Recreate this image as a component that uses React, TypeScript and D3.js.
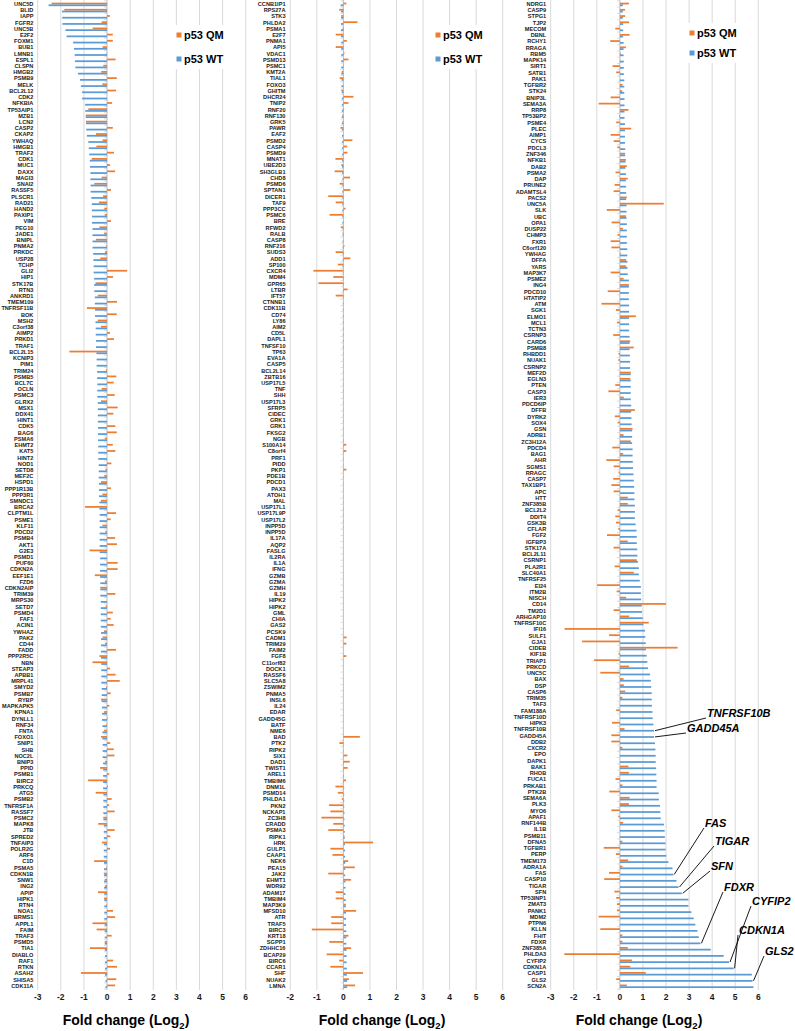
import React from "react";
import * as d3 from "d3";

const W = 795;
const H = 1031;
const PLOT_TOP = 0.9;
const PLOT_BOTTOM = 989;

// ---------- Panel 1 ----------
const genesA = ["UNC5D","BLID","IAPP","FGFR2","UNC5B","E2F2","FOXM1","BUB1","LMNB1","ESPL1","CLSPN","HMGB2","PSMB9","MELK","BCL2L12","CDK2","NFKBIA","TP53AIP1","MZB1","LCN2","CASP2","CKAP2","YWHAQ","HMGB1","TRAF2","CDK1","MUC1","DAXX","MAGI3","SNAI2","RASSF5","PLSCR1","RAD21","HAND2","PAXIP1","VIM","PEG10","JADE1","BNIPL","PNMA2",
"PRKDC","USP28","TCHP","GLI2","HIP1","STK17B","RTN3","ANKRD1","TMEM109","TNFRSF11B","BOK","MSH2","C3orf38","AIMP2","PRKD1","TRAF1","BCL2L15","KCNIP3","PIM1","TRIM24","PSMB5","BCL7C","OCLN","PSMC3","GLRX2","MSX1","DDX41","HINT1","CDK5","BAG6","PSMA6","EHMT2","KAT5","HINT2","NOD1","SETD8","MEF2C","HSPD1","PPP1R13B",
"PPP3R1","SMNDC1","BRCA2","CLPTM1L","PSME1","KLF11","PDCD2","PSMB4","AKT1","G2E3","PSMD1","PUF60","CDKN2A","EEF1E1","FZD6","CDKN2AIP","TRIM39","MRPS30","SETD7","PSMD4","FAF1","ACIN1","YWHAZ","PAK2","CD44","FADD","PPP2R5C","NBN","STEAP3","APBB1","MRPL41","SMYD2","PSMB7","RYBP","MAPKAPK5","KPNA1","DYNLL1","RNF34","FNTA","FOXO1",
"SNIP1","SHB","NOC2L","BNIP3","PPID","PSMB1","BIRC2","PRKCQ","ATG5","PSMB2","TNFRSF1A","RASSF7","PSMC2","MAPK8","JTB","SPRED2","TNFAIP3","POLR2G","ARF6","C1D","PSMA5","CDKN1B","SNW1","ING2","APIP","HIPK1","RTN4","NOA1","BRMS1","APPL1","FAIM","TRAF3","PSMD5","TIA1","DIABLO","RAF1","RTKN","ASAH2","SHISA5","CDK11A"];
const qmA = [-2.4,-1.85,0.12,-0.23,-0.62,0.25,0.25,-0.19,-0.02,0.37,-0.16,-0.25,0.42,-0.2,0.39,0.0,0.22,-0.81,-0.92,-0.91,0.25,-0.48,-0.19,-0.46,0.3,-0.66,0.13,0.35,-0.23,-0.55,0.17,-0.17,-0.35,-0.12,-0.1,0.17,-0.33,-0.13,-0.48,-0.03,
-0.09,-0.29,0.0,0.87,0.26,-0.5,0.0,-0.4,0.43,-0.87,0.42,-0.4,-0.26,0.13,0.3,0.01,-1.63,0.0,0.0,-0.04,0.4,0.29,-0.23,0.33,-0.26,0.46,0.27,0.0,0.36,0.42,-0.1,0.25,0.36,0.0,0.19,-0.07,-0.12,-0.26,0.17,
-0.2,-0.26,-0.95,0.39,0.16,-0.2,-0.07,0.35,0.43,-0.76,0.0,0.46,0.46,-0.53,-0.09,-0.29,0.36,0.0,-0.06,0.25,0.16,0.29,-0.13,-0.19,-0.09,0.39,-0.33,-0.63,0.13,0.37,0.55,-0.04,0.16,-0.26,0.1,-0.13,0.03,-0.03,-0.13,-0.26,
0.14,0.29,0.32,-0.09,-0.3,0.09,-0.82,0.04,-0.49,0.2,0.09,0.33,-0.16,-0.38,0.33,0.14,-0.22,0.13,0.0,-0.56,-0.03,-0.14,-0.1,-0.09,-0.39,-0.13,-0.03,0.26,0.35,-0.63,-0.45,0.2,-0.1,-0.74,0.0,0.27,0.43,-1.13,0.4,0.35];
const wtA = [-2.53,-1.95,-1.94,-1.93,-1.8,-1.75,-1.47,-1.43,-1.4,-1.39,-1.37,-1.26,-1.17,-1.13,-1.08,-1.08,-0.95,-0.94,-0.92,-0.91,-0.9,-0.87,-0.81,-0.79,-0.77,-0.75,-0.74,-0.72,-0.72,-0.71,-0.71,-0.68,-0.66,-0.66,-0.65,-0.65,-0.63,-0.63,-0.63,-0.63,
-0.6,-0.59,-0.58,-0.58,-0.56,-0.56,-0.55,-0.53,-0.53,-0.52,-0.52,-0.5,-0.49,-0.49,-0.48,-0.48,-0.46,-0.45,-0.45,-0.43,-0.43,-0.42,-0.42,-0.42,-0.4,-0.4,-0.4,-0.4,-0.39,-0.39,-0.39,-0.38,-0.38,-0.38,-0.36,-0.36,-0.36,-0.35,-0.35,
-0.35,-0.33,-0.33,-0.32,-0.32,-0.32,-0.32,-0.32,-0.32,-0.32,-0.3,-0.3,-0.3,-0.3,-0.29,-0.29,-0.29,-0.27,-0.27,-0.27,-0.27,-0.27,-0.26,-0.26,-0.26,-0.26,-0.26,-0.25,-0.25,-0.25,-0.25,-0.23,-0.23,-0.23,-0.22,-0.22,-0.22,-0.2,-0.2,-0.2,
-0.19,-0.19,-0.19,-0.17,-0.17,-0.17,-0.17,-0.17,-0.16,-0.16,-0.16,-0.16,-0.16,-0.14,-0.14,-0.14,-0.14,-0.14,-0.14,-0.13,-0.13,-0.13,-0.13,-0.13,-0.12,-0.12,-0.12,-0.12,-0.12,-0.1,-0.1,-0.1,-0.1,-0.1,-0.09,-0.09,-0.09,-0.09,-0.07,-0.07];

// ---------- Panel 2 ----------
const genesB = ["CCNB1IP1","RPS27A","STK3","PHLDA2","PSMA1","E2F7","PNMA1","API5","VDAC1","PSMD13","PSMC1","KMT2A","TIAL1","FOXO3","GHITM","DHCR24","TNIP2","RNF20","RNF130","GRK5","PAWR","EAF2","PSMD2","CASP4","PSMD9","MNAT1","UBE2D3","SH3GLB1","CHD8","PSMD6","SPTAN1","DICER1","TAF9","PPP3CC","PSMC6","BRE","RFWD2","RALB","CASP8","RNF216",
"SUDS3","ADD1","SP100","CXCR4","MDM4","GPR65","LTBR","IFT57","CTNNB1","CDK11B","CD74","LY86","AIM2","CD5L","DAPL1","TNFSF10","TP63","EVA1A","CASP5","BCL2L14","ZBTB16","USP17L5","TNF","SHH","USP17L3","SFRP5","CIDEC","GRK1","GRK1","FKSG2","NGB","S100A14","C8orf4","PRF1","PIDD","PKP1","PDE1B","PDCD1","PAX3",
"ATOH1","MAL","USP17L1","USP17L9P","USP17L2","INPP5D","INPP5D","IL17A","AQP2","FASLG","IL2RA","IL1A","IFNG","GZMB","GZMA","GZMH","IL19","HIPK2","HIPK2","GML","CHIA","GAS2","PCSK9","CADM1","TRIM29","FAIM2","FGF8","C11orf82","DOCK1","RASSF6","SLC5A8","ZSWIM2","PNMA5","INSL6","IL24","EDAR","GADD45G","BATF","NME6","BAD",
"PTK2","RIPK2","SIX1","DAD1","TWIST1","AREL1","TMBIM6","DNM1L","PSMD14","PHLDA1","PKN2","NCKAP1","ZC3H8","CRADD","PSMA3","RIPK1","HRK","GULP1","CAAP1","NEK6","PEA15","JAK2","EHMT1","WDR92","ADAM17","TMBIM4","MAP3K9","MFSD10","ATR","TRAF5","BIRC3","KRT18","SGPP1","ZDHHC16","BCAP29","BIRC6","CCAR1","SHF","NUAK2","LMNA"];
const qmB = [0.11,-0.16,-0.08,0.53,-0.03,-0.29,0.13,-0.29,0.04,0.19,0.01,-0.06,-0.14,0.0,-0.08,0.38,0.19,-0.03,-0.04,-0.03,-0.11,0.0,0.34,0.14,0.15,-0.3,-0.08,-0.33,0.25,-0.14,0.26,-0.57,-0.29,0.08,-0.52,-0.01,-0.1,-0.03,0.0,0.04,
-0.29,0.26,-0.21,-1.13,-0.38,-0.94,0.16,-0.29,0,0,0,0,0,0,0,0,0,0,0,0,0,0,0,0,0,0,0,0,0,0,0,0.11,0.11,0,0,0.11,0,0,0,
0,0,0,0,0,0,0,0,0,0,0,0,0,0,0,0,0,0,0,0,0,0,0,0.12,0.11,0,0.11,0,0,0,0,0,0,0,0,0,0,0,0,0.62,
-0.15,0.0,0.15,0.24,0.16,0.0,0.1,-0.3,-0.21,-0.06,-0.54,-0.49,-0.83,-0.38,-0.57,0.04,1.12,-0.49,-0.41,0.18,0.43,-0.57,0.29,0.0,-0.29,-0.29,0.09,0.48,-0.46,-0.46,-1.19,0.19,-0.53,0.29,-0.63,-0.16,-0.49,0.74,0.21,0.44];
const wtB = [-0.1,-0.09,-0.09,-0.09,-0.09,-0.09,-0.08,-0.08,-0.08,-0.08,-0.08,-0.08,-0.07,-0.07,-0.06,-0.06,-0.06,-0.06,-0.06,-0.06,-0.06,-0.05,-0.05,-0.05,-0.05,-0.05,-0.05,-0.05,-0.04,-0.04,-0.04,-0.04,-0.04,-0.04,-0.04,-0.04,-0.03,-0.03,-0.03,-0.03,
-0.03,-0.03,-0.03,-0.02,-0.02,-0.02,-0.02,-0.02,-0.02,-0.02,-0.02,-0.02,-0.02,-0.02,-0.02,-0.02,-0.01,-0.01,-0.01,-0.01,-0.01,-0.01,-0.01,-0.01,-0.01,-0.01,-0.01,-0.01,-0.01,-0.01,-0.01,-0.01,-0.01,-0.01,-0.01,-0.01,-0.01,-0.01,-0.01,
-0.01,-0.01,-0.01,-0.01,-0.01,-0.01,0,0,0,0,0,0,0,0,0,0,0,0,0,0,0,0,0,0,0,0,0,0,0,0,0,0,0,0,0,0,0,0,0,0,
0.01,0.01,0.01,0.02,0.02,0.02,0.02,0.03,0.03,0.03,0.03,0.04,0.04,0.05,0.05,0.05,0.06,0.06,0.06,0.07,0.07,0.07,0.08,0.08,0.08,0.09,0.09,0.1,0.1,0.1,0.11,0.11,0.11,0.12,0.12,0.12,0.13,0.13,0.14,0.14];

// ---------- Panel 3 ----------
const genesC = ["NDRG1","CASP9","STPG1","TJP2","MECOM","DBNL","RCHY1","RRAGA","RBM5","MAPK14","SIRT1","SATB1","PAK1","TGFBR2","STK24","BNIP3L","SEMA3A","RRP8","TP53BP2","PSME4","PLEC","AIMP1","CYCS","PDCL3","ZNF346","NFKB1","DAB2","PSMA2","DAP","PRUNE2","ADAMTSL4","PACS2","UNC5A","SLK","UBC","OPA1","DUSP22","CHMP3","FXR1","C6orf120",
"YWHAG","DFFA","YARS","MAP3K7","PSME2","ING4","PDCD10","HTATIP2","ATM","SGK1","ELMO1","MCL1","TCTN3","CSRNP3","CARD6","PSMB8","RHBDD1","NUAK1","CSRNP2","MEF2D","EGLN3","PTEN","CASP3","IER3","PDCD6IP","DFFB","DYRK2","SOX4","GSN","ADRB1","ZC3H12A","PDCD4","BAG1","AHR","SGMS1","RRAGC","CASP7","TAX1BP1","APC",
"HTT","ZNF385B","BCL2L2","DDIT4","GSK3B","CFLAR","FGF2","IGFBP3","STK17A","BCL2L11","CSRNP1","PLA2R1","SLC40A1","TNFRSF25","EI24","ITM2B","NISCH","CD14","TM2D1","ARHGAP10","TNFRSF10C","IFI16","SULF1","GJA1","CIDEB","KIF1B","TRIAP1","PRKCD","UNC5C","BAX","DSP","CASP6","TRIM35","TAF3","FAM188A","TNFRSF10D","HIPK3","TNFRSF10B","GADD45A",
"DDB2","CXCR2","EPO","DAPK1","BAK1","RHOB","FUCA1","PRKAB1","PTK2B","SEMA6A","PLK3","MYO6","APAF1","RNF144B","IL1B","PSMB11","DFNA5","TGFBR1","PERP","TMEM173","ADRA1A","FAS","CASP10","TIGAR","SFN","TP53INP1","ZMAT3","PANK1","MDM2","PTPN6","KLLN","FHIT","FDXR","ZNF385A","PHLDA3","CYFIP2","CDKN1A","CASP1","GLS2","SCN2A"];
const qmC = [0.39,0.22,0.23,0.4,-0.2,0.42,-0.42,0.26,0.04,0.01,-0.32,-0.16,0.0,0.11,0.1,-0.4,-0.92,0.37,-0.04,-0.16,0.49,-0.4,-0.27,-0.11,0.22,0.26,0.3,-0.19,0.34,-0.23,-0.27,0.3,1.9,-0.57,0.26,-0.36,0.13,-0.1,-0.4,-0.37,
0.04,0.27,0.27,-0.4,0.16,0.39,-0.53,0.0,-0.8,-0.17,0.69,-0.13,0.0,-0.29,0.45,0.6,-0.06,-0.07,0.01,0.47,0.45,-0.2,-0.5,0.17,0.0,0.65,-0.22,-0.1,0.55,0.16,0.47,-0.33,0.14,-0.59,-0.27,-0.06,-0.29,-0.37,-0.27,
0.34,0.34,-0.1,-0.2,-0.17,-0.07,-0.56,0.34,-0.27,0.02,0.73,-0.23,0.6,0.0,-0.99,-0.14,0.27,2.0,-0.27,0.4,1.25,-2.4,-0.47,-1.64,2.5,-0.06,-1.12,0.4,-0.85,0.16,0.17,0.23,0.11,0.0,-0.16,0.0,-0.34,0.2,-0.37,
-0.37,0.11,0.0,0.0,0.37,0.39,-0.19,0.11,-0.46,0.42,0.39,-0.37,-0.07,0.14,0.0,0.0,0.11,-0.7,-0.17,0.36,0.11,-0.47,-0.68,0.0,-0.24,-0.16,-0.13,-0.13,-0.92,0.0,-0.85,0.11,0.11,0.34,-2.41,0.52,0.45,1.12,-0.16,0.3];
const wtC = [0.13,0.13,0.13,0.14,0.14,0.14,0.16,0.16,0.16,0.17,0.17,0.17,0.19,0.19,0.19,0.2,0.2,0.2,0.2,0.22,0.22,0.22,0.22,0.23,0.23,0.24,0.24,0.26,0.26,0.27,0.27,0.27,0.29,0.29,0.29,0.3,0.3,0.3,0.3,0.32,
0.32,0.33,0.33,0.34,0.39,0.39,0.39,0.39,0.4,0.4,0.4,0.4,0.4,0.42,0.42,0.42,0.43,0.44,0.44,0.47,0.47,0.47,0.47,0.47,0.49,0.49,0.5,0.51,0.53,0.53,0.53,0.55,0.55,0.56,0.57,0.59,0.6,0.62,0.63,
0.63,0.65,0.65,0.65,0.68,0.72,0.73,0.73,0.75,0.76,0.78,0.82,0.82,0.86,0.91,0.91,0.92,0.95,0.96,0.99,1.02,1.09,1.1,1.12,1.13,1.16,1.19,1.22,1.31,1.34,1.36,1.38,1.38,1.39,1.41,1.42,1.45,1.48,1.48,
1.52,1.54,1.55,1.55,1.57,1.58,1.59,1.59,1.68,1.69,1.74,1.75,1.77,1.91,1.94,1.95,1.98,1.98,2.01,2.1,2.28,2.31,2.45,2.54,2.68,2.97,2.97,3.1,3.2,3.27,3.36,3.42,3.49,3.94,4.5,4.73,4.93,5.72,5.75,5.79];

const ticksA = [-3, -2, -1, 0, 1, 2, 3, 4, 5, 6];
const ticksB = [-2, -1, 0, 1, 2, 3, 4, 5, 6];
const ticksC = [-3, -2, -1, 0, 1, 2, 3, 4, 5, 6];
const seriesNames = ["p53 QM", "p53 WT"];
const annotatedGenes = ["TNFRSF10B", "GADD45A", "FAS", "TIGAR", "SFN", "FDXR", "CYFIP2", "CDKN1A", "GLS2"];

// ---------- layout / style ----------
const COLOR_QM = "#ED7D31";
const COLOR_WT = "#5B9BD5";
const FONT = "'Liberation Sans', Arial, Helvetica, sans-serif";

const PANELS = [
  { genes: genesA, qm: qmA, wt: wtA, ticks: ticksA, r0: 37.7, r1: 245.7, labelRight: 33.4, titleX: 126, legend: { x: 176.5, y: 35, dy: 24 } },
  { genes: genesB, qm: qmB, wt: wtB, ticks: ticksB, r0: 290.3, r1: 502.7, labelRight: 285.5, titleX: 382, legend: { x: 435.5, y: 35, dy: 24 } },
  { genes: genesC, qm: qmC, wt: wtC, ticks: ticksC, r0: 550.7, r1: 758.3, labelRight: 546.2, titleX: 639, legend: { x: 689.5, y: 33, dy: 20 } },
];

// label anchor positions for the annotated genes (panel 3)
const ANNOT_POS: Record<string, { tx: number; ty: number }> = {
  TNFRSF10B: { tx: 707, ty: 717 },
  GADD45A: { tx: 687, ty: 732 },
  FAS: { tx: 705, ty: 827 },
  TIGAR: { tx: 715, ty: 845 },
  SFN: { tx: 711, ty: 870 },
  FDXR: { tx: 724, ty: 891 },
  CYFIP2: { tx: 752, ty: 905 },
  CDKN1A: { tx: 739, ty: 934 },
  GLS2: { tx: 765, ty: 955 },
};

function Panel({ p, idx }: { p: typeof PANELS[number]; idx: number }) {
  const x = d3.scaleLinear().domain([p.ticks[0], p.ticks[p.ticks.length - 1]]).range([p.r0, p.r1]);
  const y = d3.scaleBand<number>().domain(d3.range(p.genes.length)).range([PLOT_TOP, PLOT_BOTTOM]).padding(0);
  const step = y.step();
  const barH = 1.75;
  const x0 = x(0);
  const boundaries = d3.range(p.genes.length + 1).map((i) => PLOT_TOP + i * step);
  const lg = p.legend;
  return (
    <g>
      {p.ticks.map((t) => (
        <line key={"g" + t} x1={x(t)} x2={x(t)} y1={PLOT_TOP - 1} y2={PLOT_BOTTOM + 1} stroke={t === 0 ? "#bfbfbf" : "#d9d9d9"} strokeWidth={1} />
      ))}
      {boundaries.map((b, i) => (
        <line key={"t" + i} x1={x0 - 3} x2={x0} y1={b} y2={b} stroke="#c8c8c8" strokeWidth={0.6} />
      ))}
      {p.genes.map((g, i) => {
        const c = (y(i) as number) + step / 2 + 0.4;
        const q = p.qm[i];
        const w = p.wt[i];
        return (
          <g key={"b" + i}>
            <rect x={Math.min(x(q), x0)} y={c - barH} width={Math.abs(x(q) - x0)} height={barH} fill={COLOR_QM} />
            <rect x={Math.min(x(w), x0)} y={c} width={Math.abs(x(w) - x0)} height={barH} fill={COLOR_WT} />
          </g>
        );
      })}
      {p.genes.map((g, i) => (
        <text key={"l" + i} x={p.labelRight} y={(y(i) as number) + step / 2 + 0.4} textAnchor="end" dominantBaseline="middle" fontSize={5.6} fontWeight="bold" fill="#1a1a1a" fontFamily={FONT}>
          {g}
        </text>
      ))}
      {p.ticks.map((t) => (
        <text key={"tl" + t} x={x(t)} y={1000} textAnchor="middle" fontSize={8.5} fontWeight="bold" fill="#1a1a1a" fontFamily={FONT}>
          {t}
        </text>
      ))}
      <text x={p.titleX} y={1025} textAnchor="middle" fontSize={14} fontWeight="bold" fill="#000" fontFamily={FONT}>
        <tspan>Fold change (Log</tspan>
        <tspan fontSize={9.5} dy={4}>2</tspan>
        <tspan dy={-4}>)</tspan>
      </text>
      <rect x={lg.x - 2} y={lg.y - 10} width={56} height={lg.dy + 20} fill="#fff" />
      {seriesNames.map((s, k) => (
        <g key={"lg" + k}>
          <rect x={lg.x} y={lg.y + k * lg.dy - 2.5} width={5} height={5} fill={k === 0 ? COLOR_QM : COLOR_WT} />
          <text x={lg.x + 7.5} y={lg.y + k * lg.dy + 4} fontSize={11} fontWeight="bold" fill="#000" fontFamily={FONT}>
            {s}
          </text>
        </g>
      ))}
      {idx === 2 &&
        annotatedGenes.map((g) => {
          const i = p.genes.indexOf(g);
          const pos = ANNOT_POS[g];
          const bx = x(p.wt[i]) + 1;
          const by = (y(i) as number) + step / 2 + 1.2;
          return (
            <g key={"a" + g}>
              <line x1={bx} y1={by} x2={pos.tx - 1} y2={pos.ty + 1} stroke="#000" strokeWidth={0.9} />
              <text x={pos.tx} y={pos.ty} fontSize={11} fontWeight="bold" fontStyle="italic" fill="#000" fontFamily={FONT}>
                {g}
              </text>
            </g>
          );
        })}
    </g>
  );
}

export default function App() {
  return (
    <svg width={W} height={H} style={{ position: "absolute", left: 0, top: 0, background: "#fff" }}>
      <rect width={W} height={H} fill="#fff" />
      {PANELS.map((p, i) => (
        <Panel key={i} p={p} idx={i} />
      ))}
    </svg>
  );
}
